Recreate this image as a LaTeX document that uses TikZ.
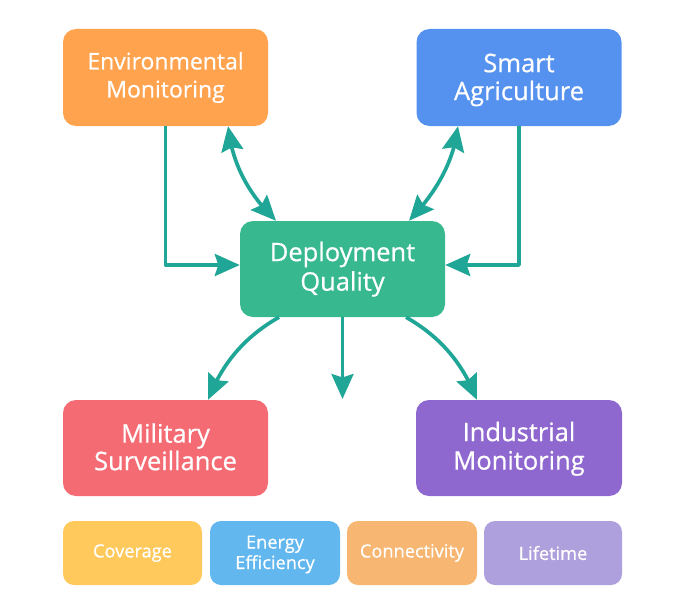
\documentclass[tikz,border=0pt]{standalone}
\usepackage{fontspec}
\setmainfont{Open Sans}[BoldFont={Open Sans},BoldFeatures={FakeBold=0.6}]
\usetikzlibrary{arrows.meta,calc,bending}
\definecolor{cOrange}{HTML}{FFA34F}
\definecolor{cBlue}{HTML}{5591EE}
\definecolor{cGreen}{HTML}{38B88E}
\definecolor{cRed}{HTML}{F46B73}
\definecolor{cPurple}{HTML}{8E67CF}
\definecolor{cYellow}{HTML}{FFC95C}
\definecolor{cSky}{HTML}{62B7EE}
\definecolor{cPeach}{HTML}{F7B671}
\definecolor{cLav}{HTML}{AE9FDD}
\definecolor{cTeal}{HTML}{20A696}
\newcommand{\dropline}[2]{\raisebox{#1}[0.7em][0.2em]{#2}}
\tikzset{
  bigbox/.style={rectangle,rounded corners=13pt,minimum width=205pt,minimum height=97pt,inner sep=0pt,
    text=white,align=center,font=\fontsize{25.5}{28.5}\selectfont\bfseries},
  smallbox/.style={rectangle,rounded corners=11pt,minimum height=64pt,inner sep=0pt,
    text=white,align=center,font=\fontsize{18.2}{21}\selectfont\bfseries},
  conn/.style={draw=cTeal,line width=3.7pt,-{Stealth[length=25pt,width=22pt,inset=3.5pt]}},
  conn2/.style={draw=cTeal,line width=3.7pt,{Stealth[length=25pt,width=22pt,inset=3.5pt]}-{Stealth[length=25pt,width=22pt,inset=3.5pt]}},
}
\begin{document}
\begin{tikzpicture}[x=1pt,y=-1pt]
\useasboundingbox (0,0) rectangle (685,602);
\node[bigbox,fill=cOrange,font=\fontsize{23}{28}\selectfont\bfseries] (env) at (165.5,77.5) {Environmental\\Monitoring};
\node[bigbox,fill=cBlue] (smart) at (519,77.5) {\dropline{-2.5pt}{Smart}\\\dropline{-2pt}{Agriculture}};
\node[bigbox,fill=cGreen,minimum height=96pt] (deploy) at (342.5,269) {\dropline{0pt}{Deployment}\\\dropline{-1pt}{Quality}};
\node[bigbox,fill=cRed,minimum height=96pt] (mil) at (165.5,448) {\dropline{-2.5pt}{Military}\\\dropline{-1.5pt}{Surveillance}};
\node[bigbox,fill=cPurple,minimum height=96pt,minimum width=206pt] (ind) at (519,448) {\dropline{-1pt}{Industrial}\\\dropline{-1pt}{Monitoring}};
\node[smallbox,fill=cYellow,minimum width=139pt] (cov) at (132.5,553) {Coverage};
\node[smallbox,fill=cSky,minimum width=130pt] (energy) at (275,553) {\dropline{-1.5pt}{Energy}\\\dropline{-1pt}{Efficiency}};
\node[smallbox,fill=cPeach,minimum width=130pt] (connect) at (412,553) {Connectivity};
\node[smallbox,fill=cLav,minimum width=138pt] (life) at (553,553) {Lifetime};
\coordinate (free) at (342.5,399);
% elbow connectors
\draw[conn,line join=round] (env.south) |- ($(deploy.west)+(0,-4)$);
\draw[conn,line join=round] (smart.south) |- ($(deploy.east)+(0,-4)$);
% double-headed curves
\draw[conn2] ($(env.south)+(62.5,0)$) .. controls ($(env.south)+(66.5,37)$) and ($(deploy.north)+(-94.5,-27)$) .. ($(deploy.north)+(-66.5,0)$);
\draw[conn2] ($(smart.south)+(-61,0)$) .. controls ($(smart.south)+(-65,34)$) and ($(deploy.north)+(95.2,-30)$) .. ($(deploy.north)+(66.5,0)$);
% outgoing
\draw[conn] ($(deploy.south)+(-63.5,0)$) .. controls ($(deploy.south)+(-98.5,20)$) and ($(mil.north)+(56.5,-36)$) .. ($(mil.north)+(42.5,0)$);
\draw[conn] (deploy.south) -- (free);
\draw[conn] ($(deploy.south)+(63.5,0)$) .. controls ($(deploy.south)+(98.5,20)$) and ($(ind.north)+(-56,-36)$) .. ($(ind.north)+(-42,0)$);
\end{tikzpicture}
\end{document}
